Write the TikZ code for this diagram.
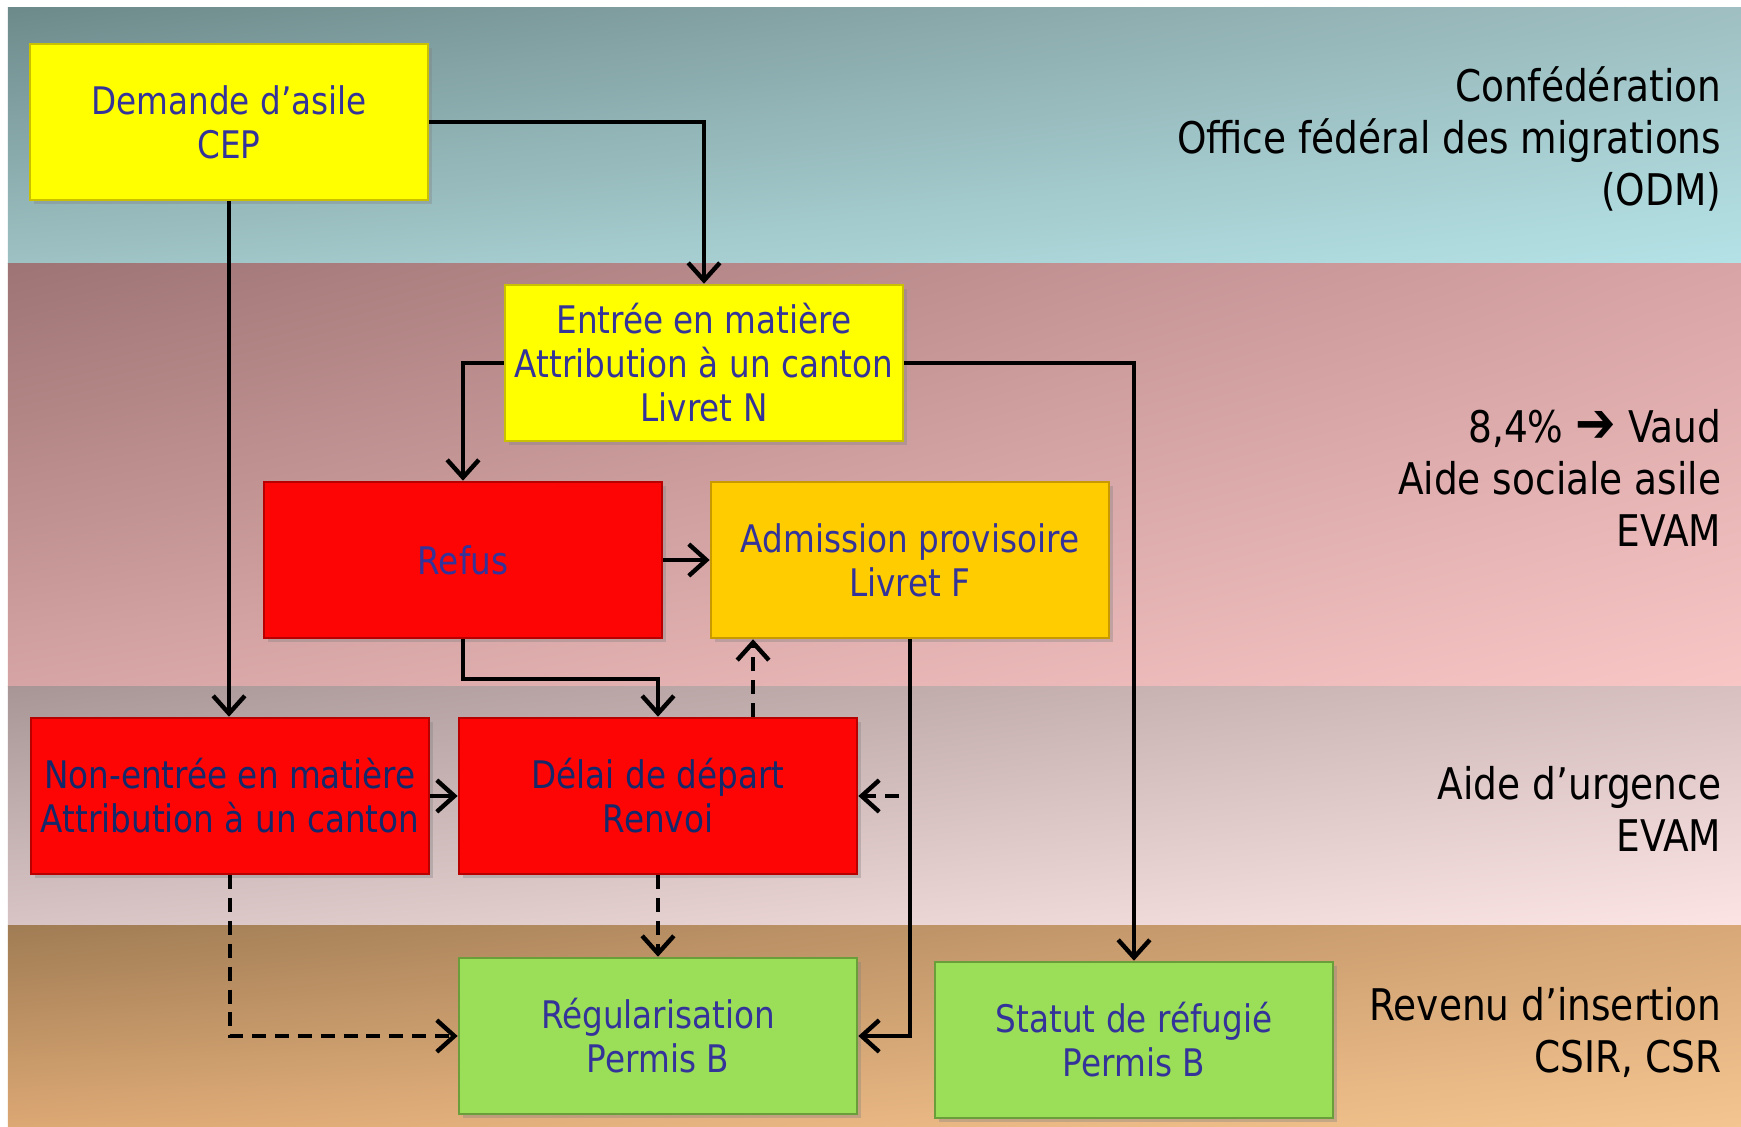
\documentclass[tikz,border=0pt]{standalone}
\usepackage{fontspec}
\setmainfont{DejaVu Sans}[FakeStretch=0.86]
\usetikzlibrary{positioning,calc,arrows.meta,shadows,shadings}
\definecolor{txtA}{HTML}{333399}
\definecolor{txtB}{HTML}{14286A}
\definecolor{jaune}{HTML}{FFFF00}
\definecolor{jauneD}{HTML}{C8C000}
\definecolor{rouge}{HTML}{FE0505}
\definecolor{rougeD}{HTML}{B80000}
\definecolor{orange}{HTML}{FFCC00}
\definecolor{orangeD}{HTML}{C89A00}
\definecolor{vert}{HTML}{9BDE57}
\definecolor{vertD}{HTML}{6A9E3A}
% bandes
\definecolor{bA1}{HTML}{6D8A8A}\definecolor{bA2}{HTML}{9FBFC2}
\definecolor{bA3}{HTML}{9EC2C4}\definecolor{bA4}{HTML}{B4E2E6}
\definecolor{bB1}{HTML}{9E7474}\definecolor{bB2}{HTML}{D9A4A6}
\definecolor{bB3}{HTML}{D6A4A4}\definecolor{bB4}{HTML}{F7C6C5}
\definecolor{bC1}{HTML}{A89696}\definecolor{bC2}{HTML}{D8C0C0}
\definecolor{bC3}{HTML}{D8C4C4}\definecolor{bC4}{HTML}{FCE4E4}
\definecolor{bD1}{HTML}{A07C54}\definecolor{bD2}{HTML}{D8A878}
\definecolor{bD3}{HTML}{DCA874}\definecolor{bD4}{HTML}{F4C590}
\tikzset{
box/.style={rectangle,minimum width=3.98cm,minimum height=1.56cm,align=center,inner sep=2pt,
  font=\fontsize{10.8}{12.5}\selectfont,text=txtA,line width=0.7pt,
  drop shadow={shadow xshift=1.2pt,shadow yshift=-1.2pt,opacity=0.35}},
bj/.style={box,fill=jaune,draw=jauneD},
br/.style={box,fill=rouge,draw=rougeD},
bo/.style={box,fill=orange,draw=orangeD},
bv/.style={box,fill=vert,draw=vertD},
lab/.style={anchor=east,align=right,inner sep=0pt,font=\fontsize{12.4}{14.8}\selectfont},
fl/.style={line width=1.25pt,-{Straight Barb[length=5pt,width=9pt]}},
dsh/.style={fl,dash pattern=on 4pt off 2.5pt}
}
\begin{document}
\begin{tikzpicture}[x=0.01cm,y=-0.01cm]
\useasboundingbox (0,0) rectangle (1741,1127);
\fill[white] (0,0) rectangle (1741,1127);
% bandes
\shade[upper left=bA1,upper right=bA2,lower left=bA3,lower right=bA4] (8,7) rectangle (1741,263);
\shade[upper left=bB1,upper right=bB2,lower left=bB3,lower right=bB4] (8,263) rectangle (1741,686);
\shade[upper left=bC1,upper right=bC2,lower left=bC3,lower right=bC4] (8,686) rectangle (1741,925);
\shade[upper left=bD1,upper right=bD2,lower left=bD3,lower right=bD4] (8,925) rectangle (1741,1127);

\node[bj] (DA) at (229,122) {Demande d’asile\\CEP};
\node[bj] (EM) at (704,363) {Entrée en matière\\Attribution à un canton\\Livret N};
\node[br] (RF) at (463,560) {Refus};
\node[bo] (AP) at (910,560) {Admission provisoire\\Livret F};
\node[br,text=txtB] (NEM) at (230,796) {Non-entrée en matière\\Attribution à un canton};
\node[br,text=txtB] (DD) at (658,796) {Délai de départ\\Renvoi};
\node[bv] (RG) at (658,1036) {Régularisation\\Permis B};
\node[bv] (SR) at (1134,1040) {Statut de réfugié\\Permis B};

\node[lab] (l1) at (1722,139) {Confédération\\Office fédéral des migrations\\(ODM)};
\node[lab] (l2) at (1722,478) {8,4\% {\fontsize{16}{14.8}\selectfont ➔} Vaud\\Aide sociale asile\\EVAM};
\node[lab] (l3) at (1722,809) {Aide d’urgence\\EVAM};
\node[lab] (l4) at (1722,1032) {Revenu d’insertion\\CSIR, CSR};

\draw[fl] (DA.east) -| (EM.north);
\draw[fl] (DA.south) -- (DA.south |- NEM.north);
\draw[fl] (EM.west) -| (RF.north);
\draw[fl] (EM.east) -| (SR.north);
\draw[fl] (RF.east) -- (AP.west);
\draw[fl] (RF.south) -- ++(0,40) -| (DD.north);
\draw[fl] (NEM.east) -- (DD.west);
\draw[fl] (AP.south) |- (RG.east);
\draw[dsh] ([xshift=0.95cm]DD.north) -- ([xshift=0.95cm]DD.north |- AP.south);
\draw[dsh] ($(AP.south |- DD.east)+(-11,0)$) -- (DD.east);
\draw[dsh] (NEM.south) |- (RG.west);
\draw[dsh] (DD.south) -- (RG.north);
\end{tikzpicture}
\end{document}
